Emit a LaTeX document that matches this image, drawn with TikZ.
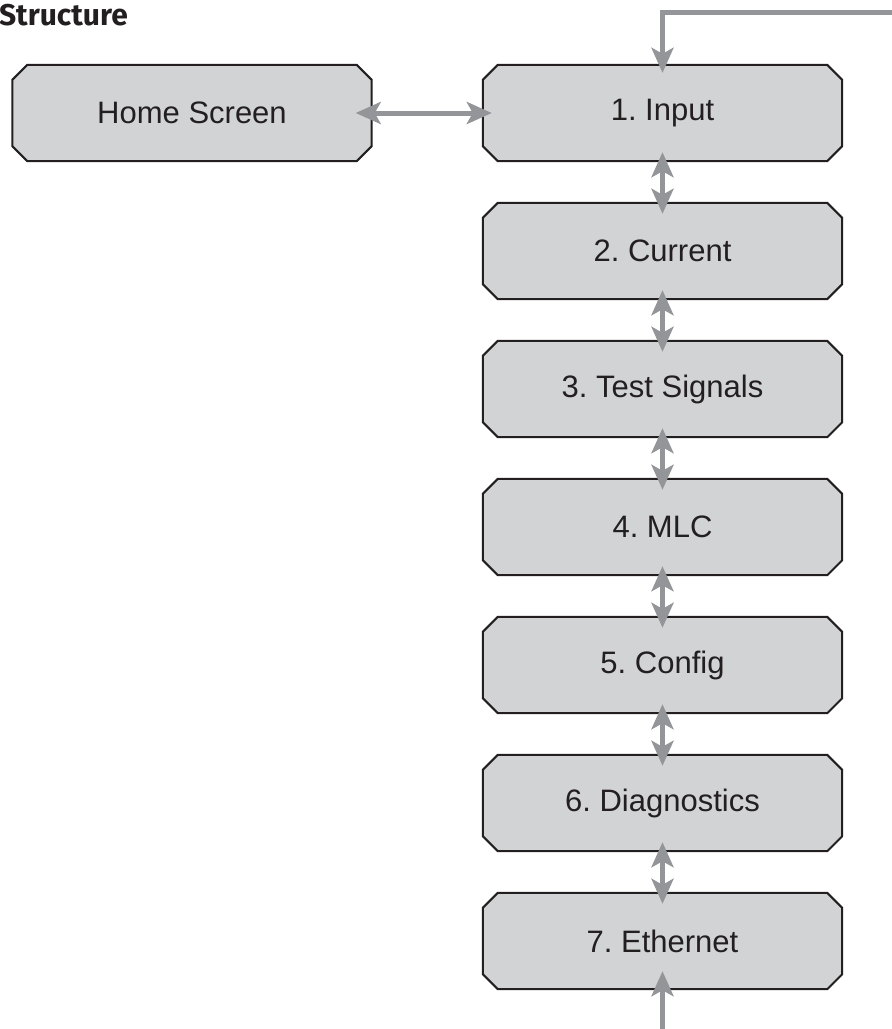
\documentclass[tikz,border=0pt]{standalone}
\usepackage{fontspec}
\setmainfont{Liberation Sans}
\newfontfamily\titlefont{Fira Sans}
\usetikzlibrary{arrows.meta,backgrounds}
\definecolor{boxfill}{HTML}{D1D3D4}
\definecolor{arrowgray}{HTML}{939598}
\definecolor{ink}{HTML}{231F20}
\tikzset{
  menutext/.style={rectangle, minimum width=359pt, minimum height=96pt,
    inner sep=0pt, text=ink, font=\fontsize{31}{37}\selectfont},
  boxline/.style={draw=ink, line width=2pt, fill=boxfill, line join=miter},
  conn/.style={draw=arrowgray, line width=5pt, arrows={-Stealth[length=25pt,width=22pt,inset=6pt]}},
  dconn/.style={draw=arrowgray, line width=5pt, arrows={Stealth[length=25pt,width=22pt,inset=6pt]-Stealth[length=25pt,width=22pt,inset=6pt]}}
}
\newcommand\menuitem[3]{%
  \node[menutext] (#1) at #2 {#3};
  \begin{scope}[on background layer]
    \draw[boxline] ([xshift=15pt]#1.north west) -- ([xshift=-15pt]#1.north east)
      -- ([yshift=-15pt]#1.north east) -- ([yshift=15pt]#1.south east)
      -- ([xshift=-15pt]#1.south east) -- ([xshift=15pt]#1.south west)
      -- ([yshift=15pt]#1.south west) -- ([yshift=-15pt]#1.north west) -- cycle;
  \end{scope}}
\begin{document}
\frenchspacing
\begin{tikzpicture}[x=1pt,y=-1pt]
\useasboundingbox (0,0) rectangle (892,1029);
\node[anchor=base east, inner sep=0pt, text=ink, font=\titlefont\bfseries\fontsize{30}{36}\selectfont] (title) at (128,25) {Structure};
\menuitem{home}{(192,113)}{Home Screen}
\menuitem{b1}{(662.5,113)}{1. Input}
\menuitem{b2}{(662.5,251)}{2. Current}
\menuitem{b3}{(662.5,389)}{3. Test Signals}
\menuitem{b4}{(662.5,527)}{4. MLC}
\menuitem{b5}{(662.5,665)}{5. Config}
\menuitem{b6}{(662.5,803)}{6. Diagnostics}
\menuitem{b7}{(662.5,941)}{7. Ethernet}
\coordinate (topright) at (892,12);
\coordinate (bottomin) at (662.5,1029);
\draw[dconn] ([xshift=-16pt]home.east) -- ([xshift=9pt]b1.west);
\foreach \a/\b in {b1/b2,b2/b3,b3/b4,b4/b5,b5/b6,b6/b7}{
  \draw[dconn] ([yshift=9pt]\a.south) -- ([yshift=-11pt]\b.north);
}
\draw[conn] (topright) -| ([yshift=-8pt]b1.north);
\draw[conn] (bottomin) -- ([yshift=18pt]b7.south);
\end{tikzpicture}
\end{document}
